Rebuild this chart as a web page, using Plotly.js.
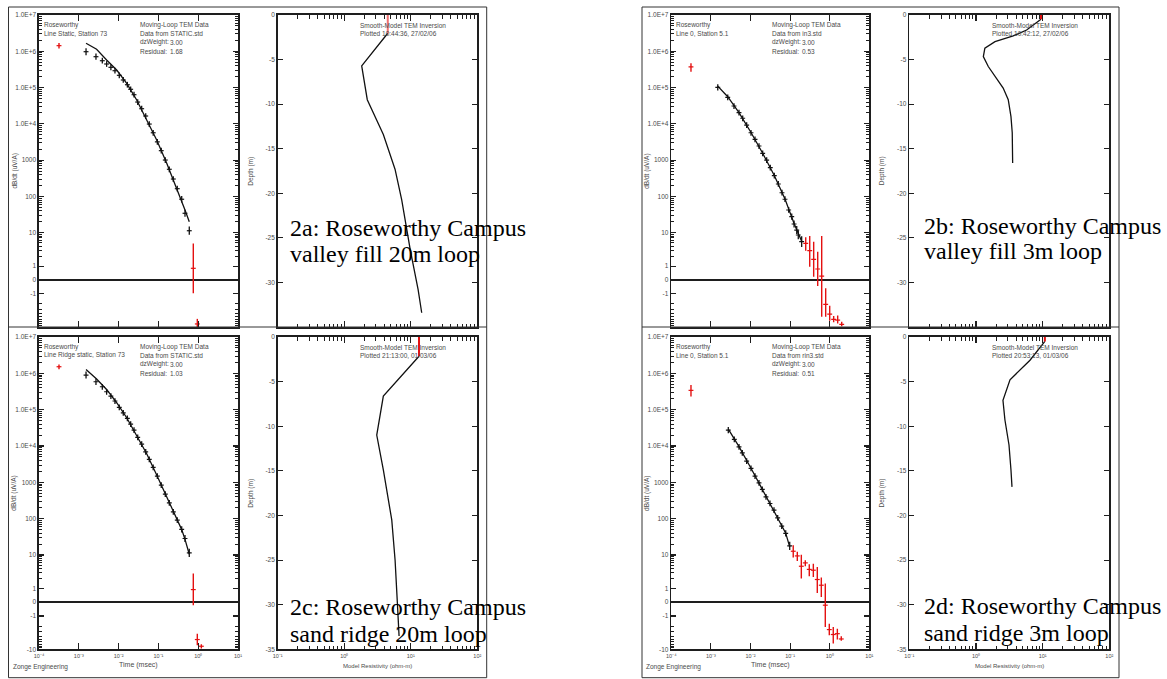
<!DOCTYPE html>
<html><head><meta charset="utf-8">
<script src="https://cdn.plot.ly/plotly-3.0.1.min.js"></script>
<style>html,body{margin:0;padding:0;background:#fff}#chart{width:1167px;height:679px}</style>
</head><body><div id="chart"></div>
<script>
// ---------- DATA ----------
// Panel 2a : decay (time msec, dB/dt uV/A)
const aTime = [1.52e-3,2.7e-3,3.9e-3,5.0e-3,6.4e-3,8.1e-3,1.04e-2,1.31e-2,1.66e-2,2.01e-2,2.44e-2,3.02e-2,3.8e-2,4.8e-2,5.9e-2,7.4e-2,9.4e-2,0.118,0.149,0.188,0.237,0.298,0.385,0.466,0.597];
const aDbdt = [9.75e5,7.1e5,5.5e5,4.47e5,3.62e5,2.92e5,2.18e5,1.62e5,1.2e5,8.98e4,6.37e4,4.0e4,2.62e4,1.65e4,9.9e3,5.7e3,3.2e3,1.83e3,1.01e3,562,303,164,84,34.5,11.4];
const aErr  = [0.25,0.22,0.2,0.2,0.2,0.2,0.2,0.2,0.2,0.2,0.2,0.2,0.2,0.2,0.2,0.2,0.2,0.2,0.2,0.2,0.2,0.2,0.22,0.25,0.3];
const aRedTime = [3.18e-4,0.753,0.95];
const aRedVal  = [1.43e6,0.84,-8.1];
const aRedLo   = [1.2e6,-0.97,-11];
const aRedHi   = [1.7e6,4.8,-5.7];
const aFitTime = [1.52e-3,2.8e-3,5.0e-3,8.95e-3,1.6e-2,2.85e-2,5.08e-2,9.06e-2,0.162,0.288,0.385,0.466,0.597];
const aFitVal  = [1.67e6,1.14e6,5.75e5,3.05e5,1.31e5,4.55e4,1.28e4,3.6e3,820,168,80,42.5,20.2];
// Panel 2a : model (resistivity ohm-m, depth m)
const aRes   = [4.51,4.51,1.83,2.22,3.87,5.8,7.3,9.8,12.9,14.6];
const aDepth = [0,-2.05,-5.7,-9.5,-13.4,-17.3,-20.7,-26.3,-30.8,-33.4];

// Panel 2b
const bTime = [1.49e-3,2.66e-3,3.83e-3,5.12e-3,6.35e-3,8.0e-3,1.03e-2,1.3e-2,1.64e-2,2.03e-2,2.56e-2,3.16e-2,3.99e-2,5.04e-2,6.24e-2,7.43e-2,9.2e-2,0.11,0.126,0.147,0.161,0.196];
const bDbdt = [1.02e5,5.4e4,3.11e4,2.04e4,1.43e4,9.3e3,5.7e3,3.77e3,2.46e3,1.55e3,1.01e3,622,374,221,127,84,42.5,27.8,17.5,11.9,8.6,5.4];
const bErr  = [0.22,0.2,0.2,0.2,0.2,0.2,0.2,0.2,0.2,0.2,0.2,0.2,0.2,0.2,0.2,0.2,0.2,0.22,0.25,0.3,0.35,0.45];
const bRedTime = [3.14e-4,0.248,0.313,0.394,0.498,0.628,0.792,1.0,1.26,1.59,2.01];
const bRedVal  = [3.7e5,4.8,2.9,1.6,0.79,0.28,-2.1,-4.1,-5.9,-6.2,-8.3];
const bRedLo   = [2.75e5,2.9,0.96,0.23,-0.44,-4.9,-4.9,-6.5,-7.2,-7.8,-9.5];
const bRedHi   = [4.7e5,7.3,8.0,5.4,2.7,8.0,-0.61,-2.3,-4.7,-4.5,-7];
const bFitTime = [1.49e-3,2.66e-3,5.12e-3,1.03e-2,2.03e-2,3.99e-2,7.43e-2,0.126,0.196];
const bFitVal  = [1.1e5,5.6e4,2.05e4,5.8e3,1.55e3,380,85,18,5.6];
const bRes   = [9.45,9.45,5.75,3.62,1.93,1.36,1.29,1.53,2.04,2.56,3.05,3.35,3.5,3.55];
const bDepth = [0,-0.48,-1.68,-2.35,-2.99,-3.72,-4.66,-5.78,-7.08,-8.2,-9.5,-11.4,-13.2,-16.6];

// Panel 2c
const cTime = [1.52e-3,2.7e-3,3.9e-3,5.0e-3,6.4e-3,8.1e-3,1.04e-2,1.31e-2,1.66e-2,2.01e-2,2.44e-2,3.02e-2,3.8e-2,4.8e-2,5.9e-2,7.4e-2,9.4e-2,0.118,0.149,0.188,0.237,0.298,0.385,0.466,0.597];
const cDbdt = [8.98e5,5.87e5,4.27e5,3.11e5,2.37e5,1.73e5,1.16e5,8.2e4,5.77e4,4.0e4,2.74e4,1.73e4,1.13e4,6.9e3,4.27e3,2.58e3,1.48e3,838,473,273,154,91,50.5,28.5,11.4];
const cErr  = [0.25,0.22,0.2,0.2,0.2,0.2,0.2,0.2,0.2,0.2,0.2,0.2,0.2,0.2,0.2,0.2,0.2,0.2,0.2,0.2,0.2,0.2,0.22,0.25,0.3];
const cRedTime = [3.18e-4,0.753,0.95,1.2,1.5,1.9];
const cRedVal  = [1.52e6,0.91,-5.1,-8.1,-12.3,-13.1];
const cRedLo   = [1.3e6,-0.22,-7.6,-9.5,-13.5,-14];
const cRedHi   = [1.75e6,2.8,-3.4,-7,-11.2,-12.2];
const cFitTime = [1.52e-3,2.8e-3,5.0e-3,8.95e-3,1.6e-2,2.85e-2,5.08e-2,9.06e-2,0.162,0.288,0.385,0.466,0.597];
const cFitVal  = [1.28e6,7.0e5,3.6e5,1.55e5,6.0e4,1.95e4,6.1e3,1.6e3,390,100,50,27,10.5];
const cRes   = [13.3,13.3,3.87,3.08,3.87,5.18,5.81,6.29,6.67];
const cDepth = [0,-2.16,-6.63,-10.99,-14.9,-20.5,-25,-29.8,-33.5];

// Panel 2d
const dTime = [2.75e-3,3.9e-3,5.13e-3,6.21e-3,8.0e-3,1.03e-2,1.3e-2,1.64e-2,1.99e-2,2.46e-2,3.1e-2,3.92e-2,4.86e-2,6.14e-2,7.75e-2,9.77e-2];
const dDbdt = [2.74e4,1.52e4,9.5e3,6.5e3,3.84e3,2.41e3,1.48e3,970,638,399,262,172,105,62.2,39.2,17.8];
const dErr  = [0.22,0.2,0.2,0.2,0.2,0.2,0.2,0.2,0.2,0.2,0.2,0.2,0.2,0.2,0.22,0.3];
const dRedTime = [3.14e-4,0.12,0.152,0.192,0.242,0.305,0.386,0.486,0.614,0.774,0.977,1.23,1.56,1.96];
const dRedVal  = [3.4e5,12.7,9.4,4.6,5.8,3.7,3.5,1.84,1.24,-0.22,-2.56,-3.6,-3.4,-4.9];
const dRedLo   = [2.3e5,8.4,6.65,1.97,4.6,2.3,2.2,0.67,0.38,-2.14,-3.8,-6.7,-5.1,-5.5];
const dRedHi   = [4.8e5,18.6,12.2,10.2,7.0,5.3,5.5,4.4,2.1,1.39,-1.7,-2.14,-2.4,-4.06];
const dFitTime = [2.75e-3,5.13e-3,1.03e-2,1.99e-2,3.92e-2,7.75e-2,9.77e-2];
const dFitVal  = [2.9e4,9.6e3,2.45e3,640,172,40,16.7];
const dRes   = [10.8,10.8,6.46,3.24,2.54,2.72,3.13,3.35,3.47];
const dDepth = [0,-0.5,-2.6,-4.8,-7.1,-9.3,-12.1,-14.9,-16.8];

// tick labels
const decayTickVals = [1e7,1e6,1e5,1e4,1000,100,10,1,0,-1,-10];
const decayTickText = ['1.0E+7','1.0E+6','1.0E+5','1.0E+4','1000','100','10','1','0','-1','-10'];
const timeTickVals = [1e-4,1e-3,1e-2,1e-1,1,10];
const timeTickText = ['10⁻⁴','10⁻³','10⁻²','10⁻¹','10⁰','10¹'];
const resTickVals = [0.1,1,10,100];
const resTickText = ['10⁻¹','10⁰','10¹','10²'];
const depthTickVals = [0,-5,-10,-15,-20,-25,-30,-35];
const depthTickText = ['0','-5','-10','-15','-20','-25','-30','-35'];

// ---------- helpers ----------
const W=1167,H=679;
const px=x=>x/W, py=y=>1-y/H;
// symmetric-log transform used by the dB/dt axis
function T(v){ const a=Math.abs(v), s=v<0?-1:1;
  if(a<1) return 13.8*v;
  if(a<10) return s*(13.8+33.3*Math.log10(a));
  return s*(47.1+36.3*(Math.log10(a)-1)); }
const FONT='Liberation Sans, Arial, sans-serif';
const TXT='#4a4a4a', AX='#1e1e1e';

const traces=[];
function decay(n, time, val, err, rT, rV, rLo, rHi, fT, fV, clipRed){
  const xa='x'+(n===1?'':n), ya='y'+(n===1?'':n);
  traces.push({x:fT, y:fV.map(T), xaxis:xa, yaxis:ya, mode:'lines', line:{color:'#111',width:1.3}, hoverinfo:'skip'});
  const y=val.map(T);
  traces.push({x:time, y:y, xaxis:xa, yaxis:ya, mode:'markers',
    marker:{symbol:'line-ew', size:3.5, color:'#111', line:{color:'#111', width:1.2}},
    error_y:{type:'data', symmetric:false, array:val.map((v,i)=>T(v*(1+err[i]))-T(v)),
      arrayminus:val.map((v,i)=>T(v)-T(v/(1+err[i]))), width:0, thickness:1.3, color:'#111'}});
  traces.push({x:rT, y:rV.map(T), xaxis:xa, yaxis:ya, mode:'markers', cliponaxis:clipRed,
    marker:{symbol:'line-ew', size:3.5, color:'#e41010', line:{color:'#e41010', width:1.2}},
    error_y:{type:'data', symmetric:false, array:rHi.map((h,i)=>T(h)-T(rV[i])),
      arrayminus:rLo.map((l,i)=>T(rV[i])-T(l)), width:0, thickness:1.4, color:'#e41010'}});
}
function model(n, res, dep, redCol){
  const xa='x'+n, ya='y'+n;
  traces.push({x:res.slice(1), y:dep.slice(1), xaxis:xa, yaxis:ya, mode:'lines', line:{color:'#111',width:1.3}});
  traces.push({x:res.slice(0,2), y:dep.slice(0,2), xaxis:xa, yaxis:ya, mode:'lines', line:{color:redCol,width:2}});
}
decay(1,aTime,aDbdt,aErr,aRedTime,aRedVal,aRedLo,aRedHi,aFitTime,aFitVal,true);
model(2,aRes,aDepth,'#f07070');
decay(3,bTime,bDbdt,bErr,bRedTime,bRedVal,bRedLo,bRedHi,bFitTime,bFitVal,true);
model(4,bRes,bDepth,'#e41010');
decay(5,cTime,cDbdt,cErr,cRedTime,cRedVal,cRedLo,cRedHi,cFitTime,cFitVal,false);
model(6,cRes,cDepth,'#e41010');
decay(7,dTime,dDbdt,dErr,dRedTime,dRedVal,dRedLo,dRedHi,dFitTime,dFitVal,false);
model(8,dRes,dDepth,'#e41010');

// ---------- axes ----------
const decX=[[39,238],[671.3,869.3]], modX=[[277.7,477.3],[909.3,1109.3]];
const rowY=[[15,327],[337,649.3]];
const layout={width:W,height:H,margin:{l:0,r:0,t:0,b:0},showlegend:false,
  paper_bgcolor:'#fff',plot_bgcolor:'rgba(0,0,0,0)',font:{family:FONT,size:7,color:TXT},
  annotations:[],shapes:[]};
const minorY=[];
for(let d=0; d<7; d++) for(let k=2;k<10;k++) minorY.push(T(k*Math.pow(10,d)));
for(let k=2;k<10;k++) minorY.push(T(-k));
const minorR=[];
for(let d=-1; d<2; d++) for(let k=2;k<10;k++) minorR.push(k*Math.pow(10,d));
function axBase(){return {showgrid:false,zeroline:false,showline:true,linecolor:AX,linewidth:1.6,
  mirror:'ticks',ticks:'inside',tickcolor:AX,tickwidth:1.1,automargin:false,
  tickfont:{family:FONT,size:6.5,color:TXT},fixedrange:true};}
// panels: 1=a decay,2=a model,3=b decay,4=b model,5=c decay,6=c model,7=d decay,8=d model
for(let n=1;n<=8;n++){
  const row = n<=4?0:1, col = ((n-1)%4>=2)?1:0, isDecay = (n%2===1);
  const xr = isDecay?decX[col]:modX[col], yr=rowY[row];
  const sfx = n===1?'':n;
  const xa=axBase(), ya=axBase();
  xa.domain=[px(xr[0]),px(xr[1])]; ya.domain=[py(yr[1]),py(yr[0])];
  xa.anchor='y'+sfx; ya.anchor='x'+sfx;
  xa.showticklabels = row===1;
  if(isDecay){
    xa.type='log'; xa.range=[-4,1]; xa.tickmode='array'; xa.tickvals=timeTickVals; xa.ticktext=timeTickText; xa.ticklen=6;
    xa.tickfont={family:FONT,size:5.5,color:TXT};
    // the lowest label of the upper row is hidden under the lower figure
    const nT = row===0 ? decayTickVals.length-1 : decayTickVals.length;
    ya.range=[T(-10),T(1e7)]; ya.tickmode='array';
    ya.tickvals=decayTickVals.slice(0,nT).map(T); ya.ticktext=decayTickText.slice(0,nT);
    ya.ticklen=5; ya.zeroline=true; ya.zerolinecolor=AX; ya.zerolinewidth=1.4;
    ya.minor={tickmode:'array',tickvals:minorY,ticks:'inside',ticklen:3,tickwidth:1,tickcolor:AX};
  } else {
    xa.type='log'; xa.range=[-1,2]; xa.tickmode='array'; xa.tickvals=resTickVals; xa.ticktext=resTickText; xa.ticklen=6;
    xa.tickfont={family:FONT,size:5.5,color:TXT};
    xa.minor={tickmode:'array',tickvals:minorR,ticks:'inside',ticklen:3.5,tickwidth:1,tickcolor:AX};
    const nT = row===0 ? depthTickVals.length-1 : depthTickVals.length;
    ya.range=[-35,0]; ya.tickmode='array'; ya.tickvals=depthTickVals.slice(0,nT); ya.ticktext=depthTickText.slice(0,nT);
    ya.ticklen=5;
  }
  layout['xaxis'+sfx]=xa; layout['yaxis'+sfx]=ya;
}

// ---------- text ----------
function ann(x,y,text,o){ layout.annotations.push(Object.assign({xref:'paper',yref:'paper',x:px(x),y:py(y),text:text,
  showarrow:false,xanchor:'left',yanchor:'middle',font:{family:FONT,size:6.5,color:TXT}},o||{})); }
const infoLeft=[['Roseworthy','Line Static, Station 73'],['Roseworthy','Line 0, Station 5.1'],
                ['Roseworthy','Line Ridge static, Station 73'],['Roseworthy','Line 0, Station 5.1']];
const infoRight=[['Data from STATIC.std','1.68'],['Data from in3.std','0.53'],['Data from STATIC.std','1.03'],['Data from rin3.std','0.51']];
const plotted=['Plotted 10:44:36, 27/02/06','Plotted 10:42:12, 27/02/06','Plotted 21:13:00, 01/03/06','Plotted 20:53:13, 01/03/06'];
const bigLab=[['2a: Roseworthy Campus','valley fill 20m loop'],['2b: Roseworthy Campus','valley fill 3m loop'],
              ['2c: Roseworthy Campus','sand ridge 20m loop'],['2d: Roseworthy Campus','sand ridge 3m loop']];
const bigY=[[228,254],[226,251],[607,634],[606,633]];
for(let p=0;p<4;p++){
  const row=p<2?0:1, col=p%2, dx=decX[col][0], mx=modX[col][0], y0=rowY[row][0], y1=rowY[row][1];
  ann(dx+3,y0+10,infoLeft[p][0]); ann(dx+3,y0+18.3,infoLeft[p][1]);
  ann(dx+99,y0+10,'Moving-Loop TEM Data'); ann(dx+99,y0+18.3,infoRight[p][0]);
  ann(dx+99,y0+27.3,'dzWeight:'); ann(dx+129,y0+27.3,'3.00');
  ann(dx+99,y0+36.7,'Residual:'); ann(dx+129,y0+36.7,infoRight[p][1]);
  ann(mx+80.5,y0+10.5,'Smooth-Model TEM Inversion'); ann(mx+80.5,y0+18.3,plotted[p]);
  const cy=(y0+y1)/2;
  ann(dx-24.5,cy,'dB/dt (uV/A)',{textangle:-90,xanchor:'center'});
  ann(mx-27,cy,'Depth (m)',{textangle:-90,xanchor:'center'});
  const tf={family:'Liberation Serif, Times New Roman, serif',size:24,color:'#000'};
  ann(col?921.5:287.7,bigY[p][0],bigLab[p][0],{font:tf});
  ann(col?921.5:287.7,bigY[p][1],bigLab[p][1],{font:tf});
  if(row===1){
    ann((decX[col][0]+decX[col][1])/2,665,'Time (msec)',{xanchor:'center',font:{family:FONT,size:7,color:TXT}});
    ann(col?643.5:11,666.7,'Zonge Engineering',{font:{family:FONT,size:6.5,color:TXT}});
    ann((modX[col][0]+modX[col][1])/2,665.7,'Model Resistivity (ohm-m)',{xanchor:'center',font:{family:FONT,size:6,color:TXT}});
  }
}
// ---------- frames ----------
function line(x0,y0,x1,y1){layout.shapes.push({type:'line',xref:'paper',yref:'paper',x0:px(x0),y0:py(y0),x1:px(x1),y1:py(y1),line:{color:'#333',width:1}});}
[[8.5,486.7],[642,1119]].forEach(([l,r])=>{line(l,7,r,7);line(l,677.7,r,677.7);line(l,7,l,677.7);line(r,7,r,677.7);line(l,327,r,327);});

Plotly.newPlot('chart',traces,layout,{staticPlot:true});
</script></body></html>
